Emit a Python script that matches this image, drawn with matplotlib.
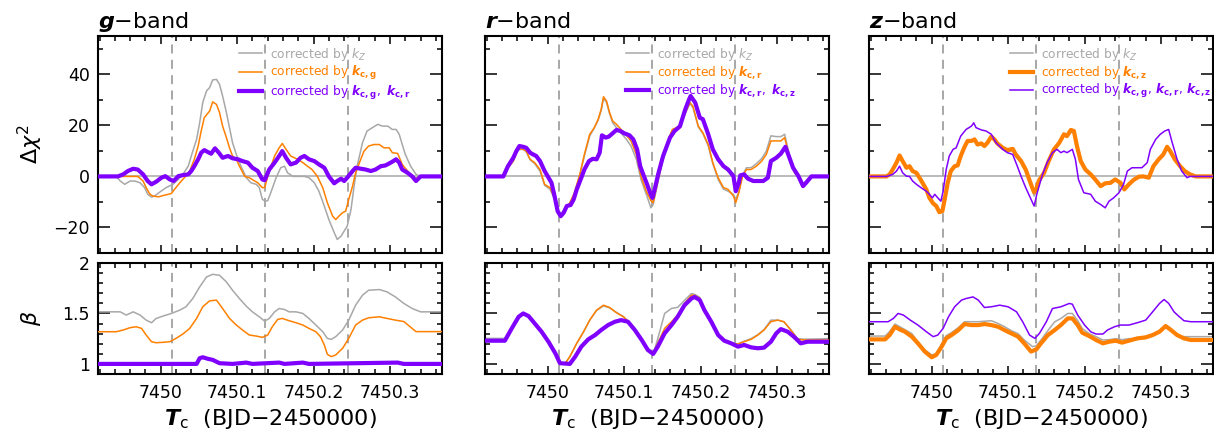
import matplotlib
matplotlib.use("Agg")
import matplotlib.pyplot as plt
from matplotlib.ticker import MultipleLocator, FuncFormatter

T0 = 7450.0
xlim = (7449.918, 7450.368)
dashed_t = [0.0145, 0.1365, 0.2447]

GRAY = "#a8a8a8"
ORANGE = "#ff8000"
PURPLE = "#8000ff"

# ---------------- g-band ----------------
g_dchi_kz_t = [-0.082, -0.058, -0.053, -0.047, -0.040, -0.034, -0.027, -0.021, -0.017, -0.012, -0.008, -0.001,
               0.007, 0.016, 0.023, 0.029, 0.036, 0.042, 0.047, 0.051, 0.055, 0.060, 0.064, 0.068, 0.073, 0.077,
               0.081, 0.086, 0.090, 0.094, 0.099, 0.105, 0.112, 0.118, 0.125, 0.129, 0.133, 0.137, 0.140, 0.144,
               0.151, 0.157, 0.162, 0.166, 0.173, 0.179, 0.188, 0.194, 0.201, 0.207, 0.214, 0.220, 0.227, 0.231,
               0.236, 0.240, 0.244, 0.249, 0.253, 0.257, 0.264, 0.270, 0.277, 0.284, 0.290, 0.297, 0.303, 0.308,
               0.312, 0.316, 0.320, 0.327, 0.334, 0.340, 0.368]
g_dchi_kz = [0, 0, -1.8, -3.1, -1.8, -1.8, -2.5, -4.4, -7.0, -8.1, -7.7, -6.1,
             -4.4, -3.1, -1.2, 0.8, 4.0, 9.9, 14.5, 21.0, 28.9, 33.5, 34.8, 37.8, 38.0, 36.0,
             31.5, 25.0, 19.1, 13.2, 8.6, 4.0, -0.5, -2.5, -3.1, -4.4, -9.0, -9.7, -9.5, -6.4,
             -0.5, 3.4, 4.0, 1.4, 0, 0, 0, -0.5, -2.5, -5.8, -11.6, -16.9, -22.0, -24.7,
             -23.4, -21.4, -19.5, -12.9, -3.8, 4.0, 13.2, 17.8, 19.1, 20.4, 19.7, 19.7, 18.4, 18.4,
             16.5, 12.5, 8.6, 4.0, 0.8, 0, 0]

g_dchi_kc_t = [-0.082, -0.030, -0.023, -0.019, -0.014, -0.010, -0.003, 0.003, 0.010, 0.014, 0.018, 0.025,
               0.031, 0.038, 0.044, 0.049, 0.053, 0.057, 0.064, 0.068, 0.073, 0.077, 0.081, 0.086, 0.090, 0.094,
               0.099, 0.103, 0.110, 0.116, 0.123, 0.127, 0.133, 0.136, 0.142, 0.149, 0.155, 0.159, 0.164, 0.170,
               0.179, 0.186, 0.192, 0.198, 0.205, 0.212, 0.218, 0.225, 0.229, 0.233, 0.238, 0.242, 0.246, 0.251,
               0.255, 0.260, 0.266, 0.272, 0.279, 0.286, 0.292, 0.299, 0.303, 0.310, 0.316, 0.323, 0.329, 0.334,
               0.338, 0.368]
g_dchi_kc = [0, 0, -1.8, -4.4, -7.0, -7.7, -8.0, -7.5, -7.0, -6.7, -5.1, -2.5,
             -0.5, 2.1, 6.7, 11.9, 17.8, 23.0, 25.6, 29.2, 28.2, 25.0, 19.7, 15.2, 11.2, 8.0,
             6.7, 4.0, 0, -0.5, -1.8, -2.5, -4.4, -4.4, 2.0, 8.0, 11.2, 12.9, 10.6, 8.0,
             6.7, 5.4, 4.0, 2.7, 0, -4.4, -10.3, -15.6, -16.9, -15.6, -14.2, -13.6, -9.0, -3.8,
             1.4, 5.4, 9.9, 11.9, 12.5, 12.5, 11.2, 11.2, 9.3, 9.0, 4.7, 2.1, 0, -0.9,
             0, 0]

g_dchi_kc2_t = [-0.082, -0.056, -0.049, -0.043, -0.036, -0.030, -0.023, -0.017, -0.012, -0.006, 0.001, 0.006,
                0.012, 0.017, 0.023, 0.029, 0.036, 0.040, 0.044, 0.049, 0.053, 0.057, 0.062, 0.066, 0.071, 0.076,
                0.081, 0.088, 0.094, 0.101, 0.107, 0.114, 0.120, 0.127, 0.133, 0.136, 0.142, 0.149, 0.155, 0.159,
                0.164, 0.170, 0.177, 0.183, 0.188, 0.194, 0.201, 0.207, 0.214, 0.220, 0.227, 0.231, 0.236, 0.240,
                0.244, 0.251, 0.255, 0.262, 0.268, 0.275, 0.281, 0.288, 0.294, 0.301, 0.308, 0.312, 0.316, 0.323,
                0.329, 0.334, 0.340, 0.368]
g_dchi_kc2 = [0, 0, 0.8, 2.1, 3.0, 2.7, 0.8, -1.8, -3.1, -2.1, -0.5, 0.1,
              -1.2, -1.8, 0.1, 0.5, 0.8, 2.1, 4.0, 6.7, 9.3, 10.3, 9.5, 8.9, 11.0, 9.3,
              7.3, 8.0, 7.1, 6.7, 6.0, 5.4, 3.4, 2.1, -1.2, -1.5, 2.7, 5.4, 8.0, 9.9,
              7.3, 4.7, 5.4, 7.3, 8.0, 6.7, 6.0, 4.7, 3.4, 0, -2.7, -1.8, -0.9, -1.8,
              -0.5, 2.1, 3.4, 3.0, 2.7, 2.1, 2.7, 4.0, 4.3, 5.4, 6.7, 5.4, 2.7, 1.4,
              0, -1.8, 0, 0]

g_beta_kz_t = [-0.082, -0.053, -0.045, -0.036, -0.027, -0.019, -0.012, -0.006, 0.003, 0.014, 0.025, 0.033,
               0.042, 0.051, 0.060, 0.068, 0.077, 0.086, 0.094, 0.103, 0.112, 0.120, 0.129, 0.136, 0.142, 0.149,
               0.155, 0.162, 0.168, 0.177, 0.186, 0.194, 0.203, 0.212, 0.218, 0.223, 0.229, 0.238, 0.246, 0.255,
               0.264, 0.272, 0.286, 0.296, 0.307, 0.318, 0.329, 0.340, 0.368]
g_beta_kz = [1.516, 1.516, 1.484, 1.516, 1.484, 1.434, 1.408, 1.450, 1.474, 1.500, 1.533, 1.566,
             1.648, 1.763, 1.862, 1.888, 1.878, 1.812, 1.730, 1.648, 1.572, 1.516, 1.467, 1.424, 1.450, 1.516,
             1.549, 1.539, 1.516, 1.516, 1.500, 1.450, 1.385, 1.319, 1.253, 1.243, 1.270, 1.336, 1.434, 1.582,
             1.681, 1.730, 1.737, 1.714, 1.664, 1.600, 1.549, 1.516, 1.516]

g_beta_kc_t = [-0.082, -0.058, -0.049, -0.040, -0.032, -0.025, -0.019, -0.012, -0.006, 0.003, 0.012, 0.020,
               0.029, 0.038, 0.047, 0.055, 0.064, 0.073, 0.081, 0.090, 0.099, 0.107, 0.116, 0.125, 0.133, 0.140,
               0.146, 0.153, 0.159, 0.168, 0.177, 0.186, 0.194, 0.203, 0.209, 0.214, 0.218, 0.223, 0.229, 0.238,
               0.246, 0.255, 0.264, 0.272, 0.286, 0.296, 0.307, 0.318, 0.326, 0.334, 0.368]
g_beta_kc = [1.319, 1.319, 1.336, 1.359, 1.368, 1.352, 1.286, 1.220, 1.210, 1.214, 1.220, 1.253,
             1.296, 1.352, 1.451, 1.566, 1.625, 1.632, 1.549, 1.451, 1.385, 1.336, 1.286, 1.276, 1.263, 1.286,
             1.368, 1.441, 1.451, 1.428, 1.408, 1.385, 1.352, 1.319, 1.270, 1.188, 1.095, 1.072, 1.089, 1.155,
             1.253, 1.385, 1.434, 1.457, 1.467, 1.451, 1.434, 1.420, 1.370, 1.320, 1.320]

g_beta_kc2_t = [-0.082, 0.047, 0.051, 0.055, 0.062, 0.068, 0.077, 0.094, 0.112, 0.120, 0.155, 0.162,
                0.186, 0.194, 0.310, 0.318, 0.368]
g_beta_kc2 = [1.0, 1.0, 1.056, 1.066, 1.050, 1.040, 1.007, 1.0, 1.013, 1.0, 1.013, 1.0,
              1.013, 1.0, 1.013, 1.0, 1.0]

# ---------------- r-band ----------------
r_dchi_kz_t = [-0.082, -0.058, -0.052, -0.045, -0.039, -0.032, -0.028, -0.023, -0.017, -0.010, -0.004, 0.003,
               0.009, 0.016, 0.022, 0.029, 0.035, 0.042, 0.048, 0.055, 0.061, 0.066, 0.070, 0.073, 0.077, 0.081,
               0.085, 0.090, 0.096, 0.103, 0.109, 0.116, 0.122, 0.129, 0.135, 0.138, 0.145, 0.151, 0.158, 0.163,
               0.173, 0.180, 0.186, 0.190, 0.197, 0.203, 0.210, 0.216, 0.223, 0.230, 0.236, 0.243, 0.246, 0.250,
               0.255, 0.260, 0.266, 0.273, 0.280, 0.286, 0.292, 0.299, 0.305, 0.310, 0.317, 0.323, 0.330, 0.334,
               0.338, 0.345, 0.368]
r_dchi_kz = [0, 0, 3.2, 6.0, 10.5, 10.6, 9.6, 6.5, 5.0, 2.0, -3.5, -5.0,
             -9.0, -15.6, -12.5, -10.5, -6.8, 0.5, 8.0, 15.8, 19.0, 22.0, 25.8, 30.5, 29.0, 24.5,
             21.0, 19.1, 17.0, 14.5, 11.9, 6.7, -1.2, -7.0, -12.3, -11.0, -1.2, 7.0, 14.0, 18.0,
             19.5, 24.6, 28.5, 27.0, 19.4, 16.8, 12.0, 5.0, -1.2, -5.0, -5.8, -7.0, -9.0, -6.0,
             0.5, 3.4, 3.4, 5.0, 7.0, 9.9, 15.9, 15.6, 15.6, 16.5, 7.3, 1.4, -0.5, -3.1,
             -2.0, 0, 0]

r_dchi_kc_t = r_dchi_kz_t
r_dchi_kc = [0, 0, 3.4, 6.0, 10.8, 10.6, 9.9, 6.7, 5.4, 2.7, -3.1, -4.4,
             -8.4, -15.6, -13.6, -10.3, -6.4, 0.8, 8.6, 16.5, 19.1, 22.4, 26.3, 31.2, 29.5, 25.0,
             21.7, 20.4, 18.4, 16.1, 13.9, 8.6, 0.1, -5.8, -9.5, -10.3, -0.5, 7.3, 14.5, 18.4,
             19.7, 25.0, 28.9, 27.5, 19.7, 17.1, 12.5, 5.4, -0.5, -4.4, -5.1, -7.7, -10.3, -6.4,
             0.1, 2.7, 2.7, 4.0, 6.0, 8.6, 13.9, 13.9, 13.9, 15.2, 6.7, 1.4, -0.5, -3.1,
             -2.0, 0, 0]

r_dchi_kc2_t = [-0.082, -0.058, -0.052, -0.045, -0.041, -0.037, -0.032, -0.028, -0.023, -0.019, -0.015, -0.010,
                -0.004, 0.000, 0.005, 0.009, 0.013, 0.017, 0.021, 0.025, 0.030, 0.034, 0.038, 0.044, 0.048, 0.054,
                0.059, 0.064, 0.068, 0.071, 0.076, 0.080, 0.085, 0.090, 0.095, 0.100, 0.107, 0.112, 0.117, 0.121,
                0.125, 0.130, 0.134, 0.137, 0.140, 0.145, 0.151, 0.160, 0.166, 0.173, 0.180, 0.185, 0.187, 0.193,
                0.199, 0.203, 0.210, 0.216, 0.223, 0.230, 0.236, 0.243, 0.246, 0.250, 0.252, 0.257, 0.262, 0.269,
                0.275, 0.282, 0.288, 0.292, 0.299, 0.305, 0.311, 0.317, 0.321, 0.328, 0.334, 0.338, 0.345, 0.368]
r_dchi_kc2 = [0, 0, 4.0, 7.3, 9.9, 11.9, 11.6, 11.2, 9.3, 8.6, 8.0, 6.0,
              2.1, 0.1, -2.5, -7.7, -13.6, -15.6, -14.2, -11.6, -11.2, -9.0, -5.1, -0.5, 2.7, 6.0,
              6.9, 6.7, 9.3, 16.1, 15.2, 15.6, 16.9, 18.2, 17.8, 16.9, 16.1, 14.5, 10.6, 4.0,
              0.8, -3.1, -6.4, -8.4, -5.0, 1.4, 8.0, 15.2, 17.8, 19.6, 26.3, 30.2, 31.5, 28.9,
              23.0, 22.4, 16.5, 10.6, 6.7, 4.0, 2.7, 0.1, -5.8, -2.5, 0.4, 0.8, -0.9, -1.8,
              -1.8, -1.8, -0.5, 6.0, 7.3, 8.9, 11.6, 6.7, 3.4, 0.1, -3.8, -2.5, 0, 0]

r_beta_kz_t = [-0.082, -0.056, -0.047, -0.038, -0.032, -0.025, -0.017, -0.008, 0.001, 0.010, 0.016, 0.023,
               0.029, 0.038, 0.047, 0.055, 0.064, 0.073, 0.081, 0.090, 0.099, 0.105, 0.114, 0.123, 0.131, 0.138,
               0.144, 0.153, 0.162, 0.170, 0.179, 0.188, 0.192, 0.199, 0.205, 0.214, 0.223, 0.231, 0.240, 0.249,
               0.257, 0.266, 0.275, 0.283, 0.292, 0.301, 0.309, 0.318, 0.327, 0.336, 0.368]
r_beta_kz = [1.253, 1.253, 1.36, 1.47, 1.50, 1.474, 1.401, 1.319, 1.220, 1.105, 1.007, 1.007,
             1.072, 1.204, 1.319, 1.434, 1.530, 1.575, 1.555, 1.510, 1.470, 1.424, 1.336, 1.237, 1.138, 1.099,
             1.250, 1.500, 1.550, 1.560, 1.630, 1.697, 1.690, 1.660, 1.533, 1.418, 1.286, 1.230, 1.204, 1.200,
             1.225, 1.250, 1.290, 1.340, 1.434, 1.434, 1.418, 1.340, 1.250, 1.245, 1.250]

r_beta_kc_t = r_beta_kz_t
r_beta_kc = [1.230, 1.230, 1.352, 1.467, 1.500, 1.474, 1.401, 1.319, 1.220, 1.105, 1.007, 1.007,
             1.072, 1.204, 1.319, 1.434, 1.533, 1.582, 1.559, 1.507, 1.467, 1.424, 1.336, 1.237, 1.138, 1.099,
             1.204, 1.352, 1.418, 1.483, 1.600, 1.681, 1.681, 1.648, 1.533, 1.418, 1.286, 1.230, 1.204, 1.197,
             1.220, 1.243, 1.286, 1.336, 1.418, 1.434, 1.418, 1.336, 1.243, 1.237, 1.237]

r_beta_kc2_t = [-0.082, -0.056, -0.047, -0.038, -0.032, -0.025, -0.017, -0.008, 0.001, 0.010, 0.016, 0.029,
                0.036, 0.044, 0.053, 0.062, 0.070, 0.079, 0.088, 0.096, 0.105, 0.114, 0.123, 0.131, 0.138, 0.144,
                0.153, 0.162, 0.170, 0.179, 0.188, 0.192, 0.199, 0.205, 0.214, 0.223, 0.231, 0.240, 0.249, 0.257,
                0.266, 0.275, 0.283, 0.292, 0.299, 0.305, 0.314, 0.322, 0.331, 0.340, 0.368]
r_beta_kc2 = [1.230, 1.230, 1.352, 1.467, 1.500, 1.474, 1.401, 1.319, 1.220, 1.105, 1.007, 1.000,
              1.072, 1.171, 1.243, 1.286, 1.336, 1.385, 1.418, 1.434, 1.418, 1.336, 1.237, 1.138, 1.099, 1.171,
              1.303, 1.385, 1.467, 1.582, 1.648, 1.664, 1.632, 1.533, 1.418, 1.286, 1.230, 1.204, 1.171, 1.188,
              1.164, 1.155, 1.161, 1.220, 1.303, 1.345, 1.319, 1.270, 1.204, 1.220, 1.220]

# ---------------- z-band ----------------
z_dchi_kc_t = [-0.082, -0.059, -0.055, -0.051, -0.046, -0.042, -0.038, -0.033, -0.029, -0.025, -0.020, -0.016,
               -0.012, -0.007, -0.003, 0.002, 0.006, 0.010, 0.014, 0.017, 0.021, 0.025, 0.030, 0.034, 0.038, 0.043,
               0.047, 0.052, 0.056, 0.060, 0.065, 0.069, 0.073, 0.078, 0.082, 0.086, 0.093, 0.099, 0.106, 0.110,
               0.117, 0.123, 0.131, 0.134, 0.137, 0.140, 0.147, 0.153, 0.160, 0.167, 0.173, 0.177, 0.182, 0.186,
               0.190, 0.195, 0.201, 0.208, 0.214, 0.221, 0.227, 0.234, 0.240, 0.247, 0.252, 0.258, 0.264, 0.271,
               0.277, 0.284, 0.290, 0.297, 0.303, 0.308, 0.312, 0.318, 0.325, 0.331, 0.338, 0.345, 0.368]
z_dchi_kc = [0, 0, 0.8, 2.7, 5.4, 8.2, 6.0, 3.4, 4.0, 2.1, 1.4, -0.5,
             -2.5, -5.1, -8.4, -10.6, -11.6, -14.0, -13.6, -9.0, -2.5, 2.1, 4.0, 4.3, 8.0, 11.6,
             13.9, 13.9, 14.5, 12.5, 12.9, 11.9, 13.2, 15.6, 14.5, 12.9, 11.2, 10.3, 10.8, 8.6,
             6.0, 2.7, -4.0, -6.2, -5.0, -1.8, 1.4, 6.0, 10.6, 13.2, 16.5, 15.8, 18.2, 17.8,
             11.9, 6.0, 2.7, 0.8, -1.2, -3.8, -2.7, -2.5, -1.2, -2.5, -5.1, -3.1, -1.4, -0.1,
             0, -0.5, 4.0, 6.7, 8.6, 11.6, 9.9, 6.7, 4.0, 2.1, 0.8, 0, 0]

z_dchi_kz_t = z_dchi_kc_t
z_dchi_kz = [0, 0, 0.8, 2.5, 5.0, 7.6, 5.8, 3.4, 3.6, 2.0, 1.2, -0.6,
             -2.6, -5.3, -8.6, -10.8, -11.9, -13.5, -13.0, -8.6, -2.3, 2.3, 4.2, 4.6, 8.2, 11.8,
             14.2, 14.3, 14.8, 13.0, 13.3, 12.2, 13.6, 15.5, 14.0, 12.4, 10.6, 9.6, 10.0, 7.8,
             5.2, 1.8, -4.8, -7.7, -5.6, -2.2, 1.0, 5.6, 10.2, 12.8, 16.0, 15.4, 17.2, 17.0,
             11.5, 5.6, 2.3, 0.4, -1.6, -4.2, -3.1, -2.9, -1.6, -2.8, -5.3, -3.3, -1.6, -0.3,
             0, -0.3, 4.2, 6.9, 8.8, 11.3, 9.6, 6.4, 3.8, 2.0, 0.7, 0, 0]

z_dchi_kc3_t = [-0.082, -0.059, -0.051, -0.046, -0.042, -0.038, -0.033, -0.029, -0.025, -0.020, -0.014, -0.007,
                -0.003, 0.001, 0.004, 0.008, 0.012, 0.015, 0.019, 0.023, 0.028, 0.032, 0.038, 0.045, 0.052, 0.055,
                0.058, 0.065, 0.071, 0.078, 0.084, 0.093, 0.099, 0.106, 0.112, 0.117, 0.123, 0.130, 0.134, 0.138,
                0.145, 0.151, 0.158, 0.164, 0.169, 0.173, 0.177, 0.184, 0.188, 0.192, 0.199, 0.208, 0.214, 0.221,
                0.227, 0.232, 0.238, 0.245, 0.251, 0.256, 0.262, 0.269, 0.275, 0.282, 0.286, 0.293, 0.299, 0.305,
                0.310, 0.314, 0.321, 0.327, 0.334, 0.338, 0.368]
z_dchi_kc3 = [0, 0, 0.8, 2.1, 4.0, 1.4, 0.1, 0, -1.8, -3.1, -4.4, -5.8,
              -7.0, -8.4, -7.0, -8.4, -9.7, -5.8, 2.7, 8.0, 10.6, 11.2, 15.8, 18.4, 19.7, 21.0,
              19.1, 18.2, 17.8, 16.5, 13.2, 10.6, 9.3, 8.6, 4.0, 0, -4.4, -9.0, -11.6, -6.4,
              0.8, 5.4, 9.3, 10.6, 9.3, 9.9, 9.3, 10.6, 6.7, -1.2, -6.4, -7.0, -9.7, -11.0,
              -12.3, -9.7, -8.4, -6.4, -3.1, 2.1, 3.4, 3.4, 3.4, 5.4, 10.6, 14.5, 16.5, 17.8,
              18.4, 13.9, 6.7, 2.1, -0.5, 0, 0]

z_beta_kz_t = [-0.082, -0.061, -0.055, -0.048, -0.042, -0.026, -0.018, -0.009, 0.000, 0.006, 0.013, 0.019,
               0.026, 0.035, 0.043, 0.061, 0.078, 0.087, 0.095, 0.104, 0.113, 0.121, 0.132, 0.137, 0.143, 0.152,
               0.161, 0.169, 0.178, 0.184, 0.191, 0.197, 0.206, 0.215, 0.224, 0.232, 0.241, 0.249, 0.258, 0.269,
               0.289, 0.298, 0.306, 0.313, 0.321, 0.330, 0.368]
z_beta_kz = [1.276, 1.276, 1.320, 1.395, 1.370, 1.300, 1.220, 1.140, 1.089, 1.100, 1.200, 1.280,
             1.310, 1.360, 1.418, 1.418, 1.428, 1.400, 1.370, 1.330, 1.300, 1.237, 1.171, 1.180, 1.237, 1.330,
             1.418, 1.450, 1.500, 1.500, 1.430, 1.350, 1.300, 1.270, 1.237, 1.240, 1.250, 1.240, 1.250, 1.253,
             1.290, 1.330, 1.385, 1.350, 1.286, 1.270, 1.270]

z_beta_kc_t = [-0.082, -0.061, -0.055, -0.048, -0.042, -0.035, -0.026, -0.018, -0.009, 0.000, 0.006, 0.013,
               0.019, 0.026, 0.035, 0.043, 0.052, 0.061, 0.069, 0.078, 0.087, 0.095, 0.104, 0.113, 0.121, 0.130,
               0.137, 0.143, 0.152, 0.161, 0.169, 0.178, 0.184, 0.191, 0.197, 0.206, 0.215, 0.224, 0.232, 0.241,
               0.249, 0.258, 0.269, 0.280, 0.289, 0.298, 0.306, 0.313, 0.321, 0.330, 0.339, 0.368]
z_beta_kc = [1.243, 1.243, 1.286, 1.368, 1.342, 1.319, 1.270, 1.204, 1.122, 1.066, 1.089, 1.171,
             1.253, 1.286, 1.336, 1.395, 1.385, 1.385, 1.395, 1.385, 1.368, 1.336, 1.303, 1.270, 1.204, 1.122,
             1.145, 1.204, 1.286, 1.336, 1.385, 1.451, 1.451, 1.385, 1.309, 1.276, 1.237, 1.204, 1.220, 1.230,
             1.211, 1.230, 1.253, 1.263, 1.286, 1.319, 1.375, 1.336, 1.286, 1.253, 1.237, 1.237]

z_beta_kc3_t = [-0.082, -0.057, -0.050, -0.044, -0.037, -0.028, -0.018, -0.007, 0.002, 0.008, 0.015, 0.022,
                0.030, 0.039, 0.045, 0.054, 0.061, 0.069, 0.078, 0.089, 0.100, 0.111, 0.119, 0.128, 0.135, 0.141,
                0.150, 0.158, 0.169, 0.180, 0.184, 0.191, 0.200, 0.208, 0.215, 0.224, 0.230, 0.239, 0.247, 0.258,
                0.269, 0.280, 0.289, 0.298, 0.304, 0.310, 0.317, 0.324, 0.330, 0.339, 0.368]
z_beta_kc3 = [1.418, 1.418, 1.451, 1.500, 1.484, 1.434, 1.385, 1.319, 1.270, 1.286, 1.352, 1.467,
              1.566, 1.632, 1.648, 1.664, 1.632, 1.559, 1.566, 1.582, 1.566, 1.516, 1.418, 1.286, 1.253, 1.303,
              1.418, 1.549, 1.566, 1.599, 1.592, 1.484, 1.385, 1.319, 1.296, 1.296, 1.336, 1.368, 1.385, 1.385,
              1.408, 1.434, 1.516, 1.599, 1.638, 1.600, 1.516, 1.467, 1.428, 1.418, 1.418]

bands = [
    dict(name="g", legend_kc=r"$\mathbfit{k}_{\mathbf{c,g}}$",
         legend_kc2=r"$\mathbfit{k}_{\mathbf{c,g}},\ \mathbfit{k}_{\mathbf{c,r}}$",
         dchi=[(g_dchi_kz_t, g_dchi_kz), (g_dchi_kc_t, g_dchi_kc), (g_dchi_kc2_t, g_dchi_kc2)],
         beta=[(g_beta_kz_t, g_beta_kz), (g_beta_kc_t, g_beta_kc), (g_beta_kc2_t, g_beta_kc2)],
         widths=[1.1, 1.1, 3.0]),
    dict(name="r", legend_kc=r"$\mathbfit{k}_{\mathbf{c,r}}$",
         legend_kc2=r"$\mathbfit{k}_{\mathbf{c,r}},\ \mathbfit{k}_{\mathbf{c,z}}$",
         dchi=[(r_dchi_kz_t, r_dchi_kz), (r_dchi_kc_t, r_dchi_kc), (r_dchi_kc2_t, r_dchi_kc2)],
         beta=[(r_beta_kz_t, r_beta_kz), (r_beta_kc_t, r_beta_kc), (r_beta_kc2_t, r_beta_kc2)],
         widths=[1.1, 1.1, 3.0]),
    dict(name="z", legend_kc=r"$\mathbfit{k}_{\mathbf{c,z}}$",
         legend_kc2=r"$\mathbfit{k}_{\mathbf{c,g}},\,\mathbfit{k}_{\mathbf{c,r}},\,\mathbfit{k}_{\mathbf{c,z}}$",
         dchi=[(z_dchi_kz_t, z_dchi_kz), (z_dchi_kc_t, z_dchi_kc), (z_dchi_kc3_t, z_dchi_kc3)],
         beta=[(z_beta_kz_t, z_beta_kz), (z_beta_kc_t, z_beta_kc), (z_beta_kc3_t, z_beta_kc3)],
         widths=[1.1, 3.0, 1.1]),
]

colors = [GRAY, ORANGE, PURPLE]

plt.rcParams["font.family"] = "DejaVu Sans"
plt.rcParams["mathtext.fontset"] = "dejavusans"

fig = plt.figure(figsize=(12.14, 4.37), dpi=100)
lefts = [98 / 1214, 485 / 1214, 869 / 1214]
width = 344 / 1214
top_box = (1 - 253 / 437, 217 / 437)
bot_box = (1 - 374 / 437, 111 / 437)


def style(ax, ymajor, yminor, show_x, show_y):
    ax.set_xlim(*xlim)
    ax.xaxis.set_major_locator(MultipleLocator(0.1))
    ax.xaxis.set_minor_locator(MultipleLocator(0.02))
    ax.yaxis.set_major_locator(MultipleLocator(ymajor))
    ax.yaxis.set_minor_locator(MultipleLocator(yminor))
    ax.xaxis.set_major_formatter(FuncFormatter(lambda v, p: f"{v:g}"))
    ax.yaxis.set_major_formatter(FuncFormatter(lambda v, p: f"{v:g}".replace("-", "\u2212")))
    ax.tick_params(which="both", direction="in", top=True, right=True, width=1.1,
                   labelsize=12.5, labelbottom=show_x, labelleft=show_y)
    ax.tick_params(axis="x", which="major", length=6, pad=7)
    ax.tick_params(axis="y", which="major", length=8.5, pad=6)
    ax.tick_params(which="minor", length=3.5)
    for s in ax.spines.values():
        s.set_linewidth(1.5)


for i, b in enumerate(bands):
    ax1 = fig.add_axes([lefts[i], top_box[0], width, top_box[1]])
    ax2 = fig.add_axes([lefts[i], bot_box[0], width, bot_box[1]])

    ax1.axhline(0, color=GRAY, lw=1.1, zorder=1)
    for ax in (ax1, ax2):
        for d in dashed_t:
            ax.axvline(T0 + d, color="#a0a0a0", lw=1.3, ls=(0, (5, 3.5)), zorder=1)

    labels = ["corrected by $k_Z$",
              "corrected by " + b["legend_kc"],
              "corrected by " + b["legend_kc2"]]
    handles = []
    for j in range(3):
        t, y = b["dchi"][j]
        h, = ax1.plot([T0 + v for v in t], y, color=colors[j], lw=b["widths"][j], zorder=2 + j)
        handles.append(h)
        t, y = b["beta"][j]
        ax2.plot([T0 + v for v in t], y, color=colors[j], lw=b["widths"][j], zorder=2 + j)

    leg = ax1.legend(handles, labels, loc="upper left", bbox_to_anchor=(0.41, 0.955),
                     frameon=False, fontsize=8.8, handlelength=1.9, handletextpad=0.65,
                     labelspacing=0.12, borderpad=0, borderaxespad=0)
    for txt, c in zip(leg.get_texts(), colors):
        txt.set_color(c)

    ax1.set_ylim(-30, 55)
    ax2.set_ylim(0.9, 2.0)
    style(ax1, 20, 10, False, i == 0)
    style(ax2, 0.5, 0.1, True, i == 0)

    ax1.set_title(r"$\mathbfit{" + b["name"] + r"}$" + "\u2212band", loc="left", fontsize=16, pad=6)
    ax2.set_xlabel(r"$\mathbfit{T}_{\mathrm{c}}$" + "  (BJD\u22122450000)", fontsize=16, labelpad=4)

    if i == 0:
        ax1.set_ylabel(r"$\Delta\chi^2$", fontsize=16, labelpad=6)
        ax2.set_ylabel(r"$\beta$", fontsize=16, labelpad=14)

fig.savefig("out.png", dpi=100)
